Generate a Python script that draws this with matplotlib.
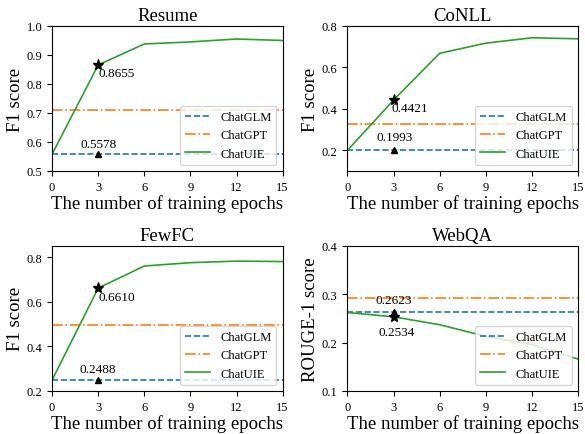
import matplotlib
matplotlib.use('Agg')
import matplotlib.pyplot as plt

plt.rcParams['font.family'] = ['Liberation Serif', 'DejaVu Serif']
plt.rcParams['mathtext.fontset'] = 'stix'

epochs = [0, 3, 6, 9, 12, 15]

# dataset name, ChatGLM, ChatGPT, ChatUIE curve
titles = ['Resume', 'CoNLL', 'FewFC', 'WebQA']
chatglm = [0.5578, 0.1993, 0.2488, 0.2623]
chatgpt = [0.710, 0.327, 0.497, 0.2925]
chatuie = [
    [0.5578, 0.8655, 0.938, 0.945, 0.955, 0.950],
    [0.1993, 0.4421, 0.668, 0.717, 0.743, 0.738],
    [0.2488, 0.6610, 0.760, 0.775, 0.782, 0.780],
    [0.2623, 0.2534, 0.237, 0.213, 0.196, 0.166],
]
ylabels = ['F1 score', 'F1 score', 'F1 score', 'ROUGE-1 score']
ylims = [(0.5, 1.0), (0.1, 0.8), (0.2, 0.85), (0.1, 0.4)]
yticks = [
    [0.5, 0.6, 0.7, 0.8, 0.9, 1.0],
    [0.2, 0.4, 0.6, 0.8],
    [0.2, 0.4, 0.6, 0.8],
    [0.1, 0.2, 0.3, 0.4],
]
# where the value labels sit (star label, triangle label)
star_txt = [(3.0, 0.837, 'left'), (2.85, 0.404, 'left'), (3.0, 0.620, 'left'), (3.2, 0.222, 'center')]
tri_txt = [(3.0, 0.592), (3.05, 0.265), (3.0, 0.298), (3.0, 0.288)]

fig, axes = plt.subplots(2, 2, figsize=(5.85, 4.35), dpi=100)
plt.subplots_adjust(left=0.089, right=0.988, top=0.938, bottom=0.099,
                    wspace=0.281, hspace=0.517)

for i, ax in enumerate(axes.flat):
    ax.plot([0, 15], [chatglm[i], chatglm[i]], '--', color='tab:blue', lw=1.2, label='ChatGLM')
    ax.plot([0, 15], [chatgpt[i], chatgpt[i]], '-.', color='tab:orange', lw=1.2, label='ChatGPT')
    ax.plot(epochs, chatuie[i], '-', color='tab:green', lw=1.2, label='ChatUIE')

    # highlighted points at epoch 3
    ax.plot(3, chatuie[i][1], marker='*', color='black', ms=8, ls='none')
    ax.plot(3, chatglm[i], marker='^', color='black', ms=5, ls='none')
    sx, sy, sha = star_txt[i]
    ax.text(sx, sy, '%.4f' % chatuie[i][1], ha=sha, va='center', fontsize=9.5)
    tx, ty = tri_txt[i]
    ax.text(tx, ty, '%.4f' % chatglm[i], ha='center', va='center', fontsize=9.5)

    ax.set_xlim(0, 15)
    ax.set_ylim(*ylims[i])
    ax.set_xticks(epochs)
    ax.set_yticks(yticks[i])
    ax.set_yticklabels(['%.1f' % v for v in yticks[i]])
    ax.tick_params(labelsize=9)
    ax.set_title(titles[i], fontsize=13.5, pad=4)
    ax.set_xlabel('The number of training epochs', fontsize=13.5, labelpad=1)
    ax.set_ylabel(ylabels[i], fontsize=13.5, labelpad=2)
    ax.legend(loc='lower right', fontsize=9)

fig.savefig('out.png', dpi=100)
